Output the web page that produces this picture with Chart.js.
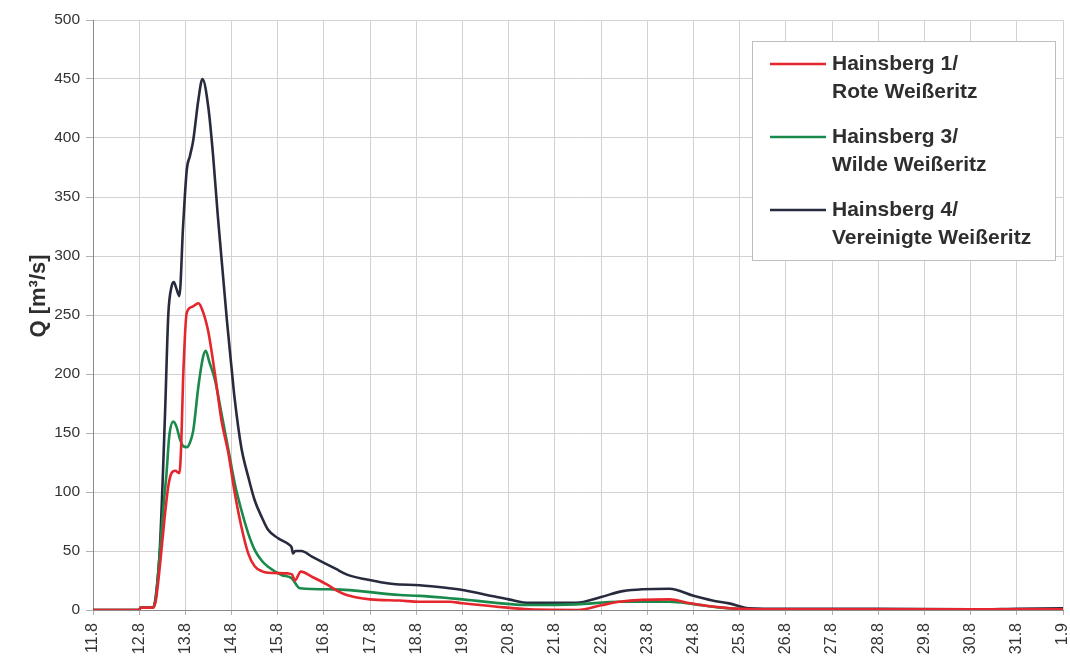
<!DOCTYPE html>
<html lang="de">
<head>
<meta charset="utf-8">
<title>Abfluss Hainsberg August 2002</title>
<script src="https://cdn.jsdelivr.net/npm/chart.js@4.4.1/dist/chart.umd.min.js"></script>
<style>
  html, body { margin: 0; padding: 0; background: #ffffff; }
  #wrap { width: 1070px; height: 664px; }
</style>
</head>
<body>
<div id="wrap"><canvas id="c" width="1070" height="664"></canvas></div>
<script>
// Date labels for the x axis, one per day starting 11 August (day 0)
const dateLabels = ['11.8', '12.8', '13.8', '14.8', '15.8', '16.8', '17.8', '18.8', '19.8', '20.8', '21.8',
  '22.8', '23.8', '24.8', '25.8', '26.8', '27.8', '28.8', '29.8', '30.8', '31.8', '1.9'];

// Gauge names (legend, two lines each)
const gaugeNames = [
  ['Hainsberg 1/', 'Rote Weißeritz'],
  ['Hainsberg 3/', 'Wilde Weißeritz'],
  ['Hainsberg 4/', 'Vereinigte Weißeritz']
];

const axisTitle = 'Q [m³/s]';

// Hainsberg 1 / Rote Weißeritz: time in days after 11.8. 0:00, discharge in m³/s
const roteT = [0, 1.0, 1.03, 1.3, 1.36, 1.45, 1.55, 1.63, 1.70, 1.78, 1.87, 1.91, 1.95, 2.03, 2.15, 2.28, 2.35,
  2.49, 2.64, 2.78, 2.93, 3.07, 3.21, 3.36, 3.50, 3.65, 3.79, 4.22, 4.31, 4.37, 4.50, 4.75, 5.05, 5.3, 5.49,
  6.0, 6.64, 7.07, 7.72, 8.0, 8.7, 9.45, 10.5, 11.0, 11.4, 12.48, 12.9, 13.41, 14.0, 15.0, 17.0, 19.0, 21.0];
const roteQ = [0, 0, 2, 2, 8, 38, 78, 105, 116, 118, 116, 140, 195, 252, 257, 260, 256,
  237, 200, 161, 133, 99, 71, 48, 37, 33, 31.6, 31, 30, 25, 32.5, 28, 22, 16, 12.7,
  9, 8, 7, 7, 5.7, 3, 0.5, 0, 4, 7, 9, 6, 3, 1, 0.5, 0.5, 0.5, 0.5];

// Hainsberg 3 / Wilde Weißeritz
const wildeT = [0, 1.0, 1.03, 1.3, 1.36, 1.45, 1.53, 1.59, 1.65, 1.74, 1.81, 1.88, 1.95, 2.03, 2.10, 2.17, 2.28,
  2.38, 2.44, 2.52, 2.64, 2.78, 2.93, 3.07, 3.21, 3.36, 3.50, 3.65, 3.79, 4.08, 4.30, 4.48, 5.2, 6.64, 7.07,
  7.72, 8.0, 9.45, 10.46, 11.4, 12.48, 13.0, 13.6, 14.2, 15.0, 17.0, 19.0, 21.0];
const wildeQ = [0, 0, 2, 2, 10, 50, 90, 115, 147, 159.6, 155, 145, 139, 138, 142, 152, 189,
  214, 219.7, 210, 195, 167, 136, 107, 85, 65, 51, 42, 36.7, 29.7, 27, 18.4, 17.5, 12.7, 12,
  10, 9, 4.2, 4.8, 7, 7, 5, 2, 0.5, 0.5, 0.5, 0.5, 0.5];

// Hainsberg 4 / Vereinigte Weißeritz
const vereinigteT = [0, 1.0, 1.03, 1.3, 1.36, 1.45, 1.56, 1.63, 1.70, 1.75, 1.80, 1.87, 1.95, 2.03, 2.10, 2.17,
  2.28, 2.37, 2.50, 2.60, 2.70, 2.80, 2.90, 3.00, 3.07, 3.21, 3.36, 3.50, 3.65, 3.79, 4.00, 4.26, 4.30, 4.33,
  4.38, 4.51, 4.75, 5.0, 5.25, 5.5, 5.9, 6.5, 7.07, 7.72, 8.0, 8.5, 9.0, 9.45, 10.46, 11.0, 11.47, 12.48,
  13.0, 13.41, 13.77, 14.2, 15.0, 17.0, 19.0, 20.0, 21.0];
const vereinigteQ = [0, 0, 2, 2, 12, 54, 167, 250, 274, 278, 273, 266, 325, 373, 385, 398,
  432, 450, 425, 385, 335, 290, 245, 205, 178, 138, 113, 93, 79, 68, 61, 55, 53, 48,
  50, 50, 45, 40, 35, 30, 26, 22, 21, 18.4, 17, 13, 9, 6, 6, 11, 16, 18,
  12, 8, 5.6, 1.5, 1, 1, 0.5, 1, 1.5];

const seriesColors = ['#e5262c', '#198a4b', '#272b3d'];

function toPoints(ts, qs) {
  return ts.map((t, i) => ({ x: t, y: qs[i] }));
}

const FONT = "'Liberation Sans', Arial, sans-serif";

// Vertical axis title and the framed legend box
const decorations = {
  id: 'decorations',
  afterDatasetsDraw(chart) {
    const ctx = chart.ctx;
    ctx.save();

    // axis title, rotated
    ctx.save();
    ctx.translate(39, 296);
    ctx.rotate(-Math.PI / 2);
    ctx.font = 'bold 22px ' + FONT;
    ctx.fillStyle = '#2e2e2e';
    ctx.textAlign = 'center';
    ctx.textBaseline = 'middle';
    ctx.fillText(axisTitle, 0, 0);
    ctx.restore();

    // legend
    ctx.fillStyle = '#ffffff';
    ctx.strokeStyle = '#bdbdbd';
    ctx.lineWidth = 1;
    ctx.fillRect(752, 41, 303, 219);
    ctx.strokeRect(752.5, 41.5, 303, 219);
    ctx.font = 'bold 21px ' + FONT;
    ctx.textBaseline = 'middle';
    ctx.textAlign = 'left';
    gaugeNames.forEach((lines, i) => {
      const y0 = 64 + i * 73;
      ctx.strokeStyle = seriesColors[i];
      ctx.lineWidth = 2.5;
      ctx.beginPath();
      ctx.moveTo(770, y0);
      ctx.lineTo(826, y0);
      ctx.stroke();
      ctx.fillStyle = '#2e2e2e';
      lines.forEach((txt, j) => ctx.fillText(txt, 832, y0 + j * 28));
    });
    ctx.restore();
  }
};

const datasets = [
  { label: gaugeNames[0].join(' '), data: toPoints(roteT, roteQ) },
  { label: gaugeNames[1].join(' '), data: toPoints(wildeT, wildeQ) },
  { label: gaugeNames[2].join(' '), data: toPoints(vereinigteT, vereinigteQ) }
].map((d, i) => Object.assign(d, {
  borderColor: seriesColors[i],
  backgroundColor: seriesColors[i],
  borderWidth: 2.6,
  pointRadius: 0,
  fill: false,
  cubicInterpolationMode: 'monotone',
  tension: 0.4
}));

new Chart(document.getElementById('c'), {
  type: 'line',
  data: { datasets },
  options: {
    responsive: false,
    animation: false,
    layout: { padding: { top: 20, right: 7, left: 0, bottom: 0 } },
    plugins: { legend: { display: false }, tooltip: { enabled: false } },
    scales: {
      x: {
        type: 'linear',
        min: 0,
        max: dateLabels.length - 1,
        afterFit(scale) {
          scale.height = 54;
          scale.paddingLeft = 0;
          scale.paddingRight = 0;
        },
        border: { color: '#8a8a8a', width: 1 },
        grid: { color: '#d2d2d2', lineWidth: 1, tickLength: 5, tickColor: '#b0b0b0' },
        ticks: {
          stepSize: 1,
          autoSkip: false,
          minRotation: 90,
          maxRotation: 90,
          padding: 8,
          color: '#333333',
          font: { family: FONT, size: 16 },
          callback: (v) => dateLabels[v]
        }
      },
      y: {
        min: 0,
        max: 500,
        afterFit(scale) { scale.width = 93; },
        border: { color: '#8a8a8a', width: 1 },
        grid: { color: '#d2d2d2', lineWidth: 1, tickLength: 7, tickColor: '#b0b0b0' },
        ticks: {
          stepSize: 50,
          padding: 6,
          color: '#333333',
          font: { family: FONT, size: 15.5 }
        }
      }
    }
  },
  plugins: [decorations]
});
</script>
</body>
</html>
